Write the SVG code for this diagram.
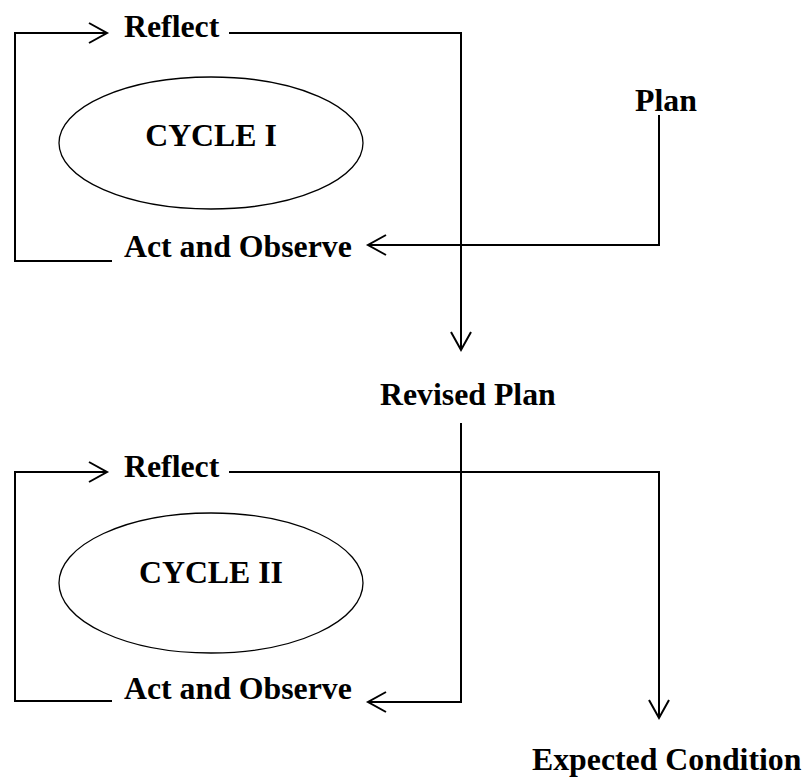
<svg xmlns="http://www.w3.org/2000/svg" width="809" height="779" viewBox="0 0 809 779">
<style>
.t{font-family:"Liberation Serif","Times New Roman",serif;font-weight:bold;font-size:31.8px;fill:#000}
.c{fill:none;stroke:#000;stroke-width:2}
.e{fill:#fff;stroke:#000;stroke-width:1.3}
</style>
<defs>
<marker id="ah" markerUnits="userSpaceOnUse" markerWidth="24" markerHeight="24" viewBox="-1 -1 22 24" refX="19" refY="10" orient="auto">
<path d="M1,0 L19,10 L1,20" fill="none" stroke="#000" stroke-width="2"/>
</marker>
</defs>
<rect width="809" height="779" fill="#fff"/>
<g id="connectors">
<path class="c" d="M112,261 H15 V33 H107" marker-end="url(#ah)"/>
<path class="c" d="M229,33 H461 V350" marker-end="url(#ah)"/>
<path class="c" d="M659,115 V245 H368" marker-end="url(#ah)"/>
<path class="c" d="M461,423 V702 H368" marker-end="url(#ah)"/>
<path class="c" d="M112,701 H15 V472 H107" marker-end="url(#ah)"/>
<path class="c" d="M229,472 H659 V718" marker-end="url(#ah)"/>
</g>
<g id="cycle1"><ellipse class="e" cx="211" cy="143" rx="152" ry="66"/><text class="t" x="211" y="146" text-anchor="middle">CYCLE I</text></g>
<g id="reflect1"><text class="t" x="124" y="37">Reflect</text></g>
<g id="act1"><text class="t" x="124" y="257">Act and Observe</text></g>
<g id="plan"><text class="t" x="635" y="111">Plan</text></g>
<g id="revised"><text class="t" x="380" y="405">Revised Plan</text></g>
<g id="cycle2"><ellipse class="e" cx="211" cy="583" rx="152" ry="70"/><text class="t" x="211" y="583" text-anchor="middle">CYCLE II</text></g>
<g id="reflect2"><text class="t" x="124" y="477">Reflect</text></g>
<g id="act2"><text class="t" x="124" y="699">Act and Observe</text></g>
<g id="expected"><text class="t" x="532" y="770">Expected Condition</text></g>
</svg>
